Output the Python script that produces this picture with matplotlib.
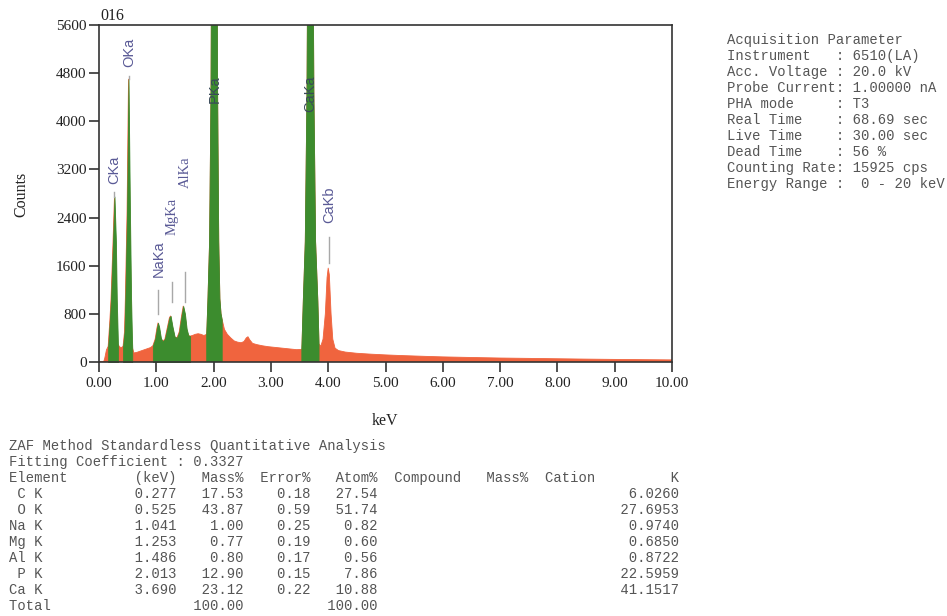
import numpy as np
import matplotlib
matplotlib.use("Agg")
import matplotlib.pyplot as plt

W, H = 947, 616

# ---------------- data ----------------
energy = [0.00, 0.08, 0.10, 0.13, 0.16, 0.19, 0.21, 0.245, 0.27, 0.295, 0.31, 0.325, 0.33,
          0.36, 0.39, 0.42, 0.445, 0.46, 0.49, 0.515, 0.54, 0.56, 0.575, 0.58,
          0.61, 0.66, 0.72, 0.78, 0.84, 0.90, 0.94, 0.98, 1.01, 1.03, 1.05, 1.08,
          1.11, 1.15, 1.19, 1.23, 1.25, 1.28, 1.32, 1.36, 1.40, 1.44, 1.47, 1.50,
          1.53, 1.56, 1.59, 1.63, 1.68, 1.73, 1.78, 1.83, 1.88, 1.90, 1.93, 1.955,
          1.97, 2.013, 2.055, 2.07, 2.09, 2.11, 2.13, 2.15, 2.19, 2.24, 2.30, 2.36, 2.42,
          2.48, 2.53, 2.57, 2.60, 2.63, 2.68, 2.75, 2.85, 2.95, 3.05, 3.15, 3.25,
          3.35, 3.45, 3.54, 3.565, 3.60, 3.63, 3.65, 3.69, 3.73, 3.75, 3.78, 3.82,
          3.84, 3.87, 3.91, 3.95, 3.98, 4.00, 4.02, 4.05, 4.08, 4.12, 4.18, 4.30,
          4.50, 4.75, 5.00, 5.25, 5.50, 5.75, 6.00, 6.50, 7.00, 7.50, 8.00, 8.50,
          9.00, 9.50, 10.00]
counts = [0, 0, 60, 200, 260, 700, 1050, 2000, 2750, 2000, 1050, 500, 300,
          250, 240, 260, 500, 1050, 2500, 4700, 2500, 1050, 400, 250,
          150, 160, 180, 200, 220, 240, 270, 380, 560, 650, 580, 400,
          340, 380, 560, 740, 765, 600, 420, 400, 500, 760, 930, 800,
          550, 440, 430, 440, 460, 470, 460, 440, 460, 1000, 2000, 4500,
          8000, 20000, 8000, 4500, 2000, 1050, 800, 700, 540, 460, 400, 350, 330,
          320, 340, 400, 420, 370, 310, 290, 270, 255, 245, 235, 225,
          215, 205, 210, 1000, 2000, 4500, 8000, 16000, 8000, 4500, 2000, 1000,
          300, 260, 380, 800, 1400, 1560, 1450, 800, 380, 230, 190, 165,
          145, 130, 118, 108, 100, 92, 85, 75, 66, 60, 54, 48,
          43, 39, 35]

# element windows (keV) filled green
roi_windows = [(0.16, 0.33), (0.42, 0.58), (0.94, 1.59), (1.88, 2.15), (3.54, 3.84)]

# peak labels: text, energy, label base (counts), marker line (bottom, top) counts
peak_labels = ["CKa", "OKa", "NaKa", "MgKa", "AlKa", "PKa", "CaKa", "CaKb"]
peak_energy = [0.27, 0.525, 1.035, 1.27, 1.50, 2.02, 3.68, 4.01]
peak_label_base = [2960, 4900, 1410, 2110, 2890, 4300, 4150, 2310]
peak_line_low = [2750, 4700, 800, 1000, 1000, None, None, 1640]
peak_line_high = [2830, 4760, 1200, 1330, 1500, None, None, 2080]

x_ticks = [0, 1, 2, 3, 4, 5, 6, 7, 8, 9, 10]
x_ticklabels = ["0.00", "1.00", "2.00", "3.00", "4.00", "5.00", "6.00", "7.00",
                "8.00", "9.00", "10.00"]
y_ticks = [0, 800, 1600, 2400, 3200, 4000, 4800, 5600]

acq_names = ["Instrument", "Acc. Voltage", "Probe Current", "PHA mode", "Real Time",
             "Live Time", "Dead Time", "Counting Rate", "Energy Range"]
acq_values = ["6510(LA)", "20.0 kV", "1.00000 nA", "T3", "68.69 sec", "30.00 sec",
              "56 %", "15925 cps", " 0 - 20 keV"]

tbl_elements = [" C K", " O K", "Na K", "Mg K", "Al K", " P K", "Ca K"]
tbl_kev = ["0.277", "0.525", "1.041", "1.253", "1.486", "2.013", "3.690"]
tbl_mass = ["17.53", "43.87", "1.00", "0.77", "0.80", "12.90", "23.12"]
tbl_error = ["0.18", "0.59", "0.25", "0.19", "0.17", "0.15", "0.22"]
tbl_atom = ["27.54", "51.74", "0.82", "0.60", "0.56", "7.86", "10.88"]
tbl_k = ["6.0260", "27.6953", "0.9740", "0.6850", "0.8722", "22.5959", "41.1517"]
tbl_total_mass = "100.00"
tbl_total_atom = "100.00"
fitting_coef = "0.3327"

# ---------------- figure ----------------
RED = "#f0643e"
GREEN = "#3c8c2e"
SERIF = "Liberation Serif"
MONO = "Liberation Mono"
TXT = "#555555"

fig = plt.figure(figsize=(W / 100, H / 100), dpi=100)
fig.patch.set_facecolor("white")

L, R, T, B = 99, 672, 25, 362
ax = fig.add_axes([L / W, 1 - B / H, (R - L) / W, (B - T) / H])

E = np.array(energy)
C = np.array(counts)
ax.fill_between(E, 0, C, color=RED, linewidth=0.6, edgecolor=RED)
for lo, hi in roi_windows:
    m = (E >= lo - 1e-9) & (E <= hi + 1e-9)
    ax.fill_between(E[m], 0, C[m], color=GREEN, linewidth=0.6, edgecolor=GREEN)

for i, lab in enumerate(peak_labels):
    if peak_line_low[i] is not None:
        ax.plot([peak_energy[i]] * 2, [peak_line_low[i], peak_line_high[i]],
                color="#a8a8a8", lw=1.0, zorder=3)
    inside = lab in ("PKa", "CaKa")
    fam = SERIF if lab in ("MgKa", "AlKa") else "Liberation Sans"
    ax.text(peak_energy[i], peak_label_base[i], lab, rotation=90, ha="center",
            va="bottom", fontsize=10.5, family=fam,
            color="#3a4a5a" if inside else "#5a5a96", zorder=4)

ax.set_xlim(0, 10)
ax.set_ylim(0, 5600)
ax.set_xticks(x_ticks)
ax.set_xticklabels(x_ticklabels)
ax.set_yticks(y_ticks)
ax.set_yticklabels([str(v) for v in y_ticks])
ax.tick_params(direction="out", length=7, width=1.2, color="#333333",
               labelsize=11, labelcolor="#222222")
ax.tick_params(axis="y", pad=2)
ax.tick_params(axis="x", pad=4)
for lbl in ax.get_xticklabels() + ax.get_yticklabels():
    lbl.set_family(SERIF)
for s in ax.spines.values():
    s.set_linewidth(1.2)
    s.set_color("#333333")


def fx(px):
    return px / W


def fy(py):
    return 1 - py / H


fig.text(fx(21), fy(194), "Counts", rotation=90, ha="center", va="center",
         family=SERIF, fontsize=11.5, color="#222222")
fig.text(fx(385), fy(421), "keV", ha="center", va="center",
         family=SERIF, fontsize=11.5, color="#222222")
fig.text(fx(100), fy(16), "016", ha="left", va="center",
         family=SERIF, fontsize=11.5, color="#222222")

# acquisition parameter block
acq_lines = ["Acquisition Parameter"] + [f"{n:<13}: {v}" for n, v in zip(acq_names, acq_values)]
for i, line in enumerate(acq_lines):
    fig.text(fx(727), fy(40 + 16 * i), line, ha="left", va="center",
             family=MONO, fontsize=10, color=TXT)


def place(width, items):
    buf = [" "] * width
    for col, text, align in items:
        start = col if align == "l" else col - len(text)
        for j, ch in enumerate(text):
            buf[start + j] = ch
    return "".join(buf).rstrip()


tbl_lines = ["ZAF Method Standardless Quantitative Analysis",
             f"Fitting Coefficient : {fitting_coef}",
             place(82, [(0, "Element", "l"), (20, "(keV)", "r"), (28, "Mass%", "r"),
                        (36, "Error%", "r"), (44, "Atom%", "r"), (46, "Compound", "l"),
                        (57, "Mass%", "l"), (64, "Cation", "l"), (80, "K", "r")])]
for i in range(len(tbl_elements)):
    tbl_lines.append(place(82, [(0, tbl_elements[i], "l"), (20, tbl_kev[i], "r"),
                                (28, tbl_mass[i], "r"), (36, tbl_error[i], "r"),
                                (44, tbl_atom[i], "r"), (80, tbl_k[i], "r")]))
tbl_lines.append(place(82, [(0, "Total", "l"), (28, tbl_total_mass, "r"),
                            (44, tbl_total_atom, "r")]))
for i, line in enumerate(tbl_lines):
    fig.text(fx(9), fy(446 + 16 * i), line, ha="left", va="center",
             family=MONO, fontsize=10, color=TXT)

fig.savefig("out.png", dpi=100)
